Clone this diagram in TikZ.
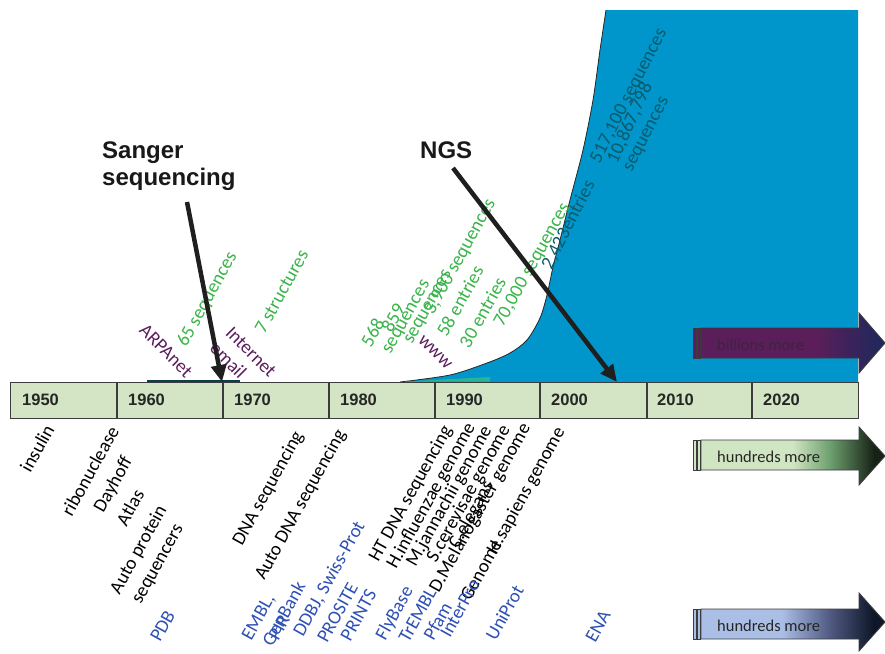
\documentclass[tikz,border=0pt]{standalone}
\usepackage{fontspec}
\setmainfont{Carlito}
\newfontfamily\headfont{Liberation Sans}
\usetikzlibrary{arrows.meta}
\definecolor{areablue}{RGB}{0,150,203}
\definecolor{bargreen}{RGB}{211,229,196}
\definecolor{barline}{RGB}{60,60,60}
\definecolor{labgreen}{RGB}{58,180,74}
\definecolor{labteal}{RGB}{12,90,106}
\definecolor{labpurple}{RGB}{92,30,94}
\definecolor{labblue}{RGB}{46,80,180}
\definecolor{streak}{RGB}{40,180,150}
\definecolor{bpurple}{RGB}{92,30,90}
\definecolor{bnavy}{RGB}{30,40,92}
\definecolor{glight}{RGB}{208,229,194}
\definecolor{gmid}{RGB}{110,160,110}
\definecolor{gdark}{RGB}{22,34,22}
\definecolor{blight}{RGB}{170,190,230}
\definecolor{bmid}{RGB}{80,90,130}
\definecolor{bdark}{RGB}{14,22,40}
\pgfdeclarehorizontalshading{shbill}{100bp}{color(0bp)=(bpurple); color(25bp)=(bpurple); color(56bp)=(bpurple); color(74bp)=(bnavy); color(100bp)=(bnavy)}
\pgfdeclarehorizontalshading{shgreen}{100bp}{color(0bp)=(glight); color(25bp)=(glight); color(50bp)=(glight); color(60bp)=(gmid); color(72bp)=(gdark); color(100bp)=(gdark)}
\pgfdeclarehorizontalshading{shblue}{100bp}{color(0bp)=(blight); color(25bp)=(blight); color(47bp)=(blight); color(60bp)=(bmid); color(72bp)=(bdark); color(100bp)=(bdark)}
\tikzset{
  lab/.style={font=\fontsize{19}{22}\selectfont, inner sep=0pt},
  gtxt/.style={lab, text=labgreen, rotate=61},
  ttxt/.style={lab, text=labteal, rotate=63},
  ptxt/.style={lab, text=labpurple, rotate=-45},
  ktxt/.style={lab, text=black, rotate=61},
  btxt/.style={lab, text=labblue, rotate=61},
  yr/.style={font=\headfont\bfseries\fontsize{16.5}{18}\selectfont, text=black!85, inner sep=0pt, anchor=west},
  hd/.style={font=\headfont\bfseries\fontsize{24}{28}\selectfont, text=black!90, inner sep=0pt, anchor=base west},
  bigarrow/.style={line width=4.5pt, black!88, -{Triangle[length=17pt,width=15pt]}},
  rarr/.style={draw=barline, line width=0.9pt},
  rtxt/.style={font=\fontsize{16.5}{18}\selectfont, inner sep=0pt, anchor=west}
}
\begin{document}
\begin{tikzpicture}[x=1pt,y=-1pt]
\useasboundingbox (0,0) rectangle (885,653);
\fill[white] (0,0) rectangle (885,653);
% blue growth area
\fill[areablue] (400,382) -- plot[smooth] coordinates {(400,382) (450,375) (487,363) (510,353) (527,340) (540,318) (547,295) (553,267) (560,240) (570,200) (583,150) (593,100) (600,50) (606,10)} -- (858,10) -- (858,382) -- cycle;
\draw[black!85, line width=0.8pt] plot[smooth] coordinates {(400,382) (450,375) (487,363) (510,353) (527,340) (540,318) (547,295) (553,267) (560,240) (570,200) (583,150) (593,100) (600,50) (606,10)};
\fill[streak] (405,381.5) -- (490,377) -- (490,381.5) -- cycle;
\draw[labteal!70!black, line width=1.8pt] (147,381) -- (240,381);
% timeline bar
\draw[barline, fill=bargreen, line width=1pt] (10,382) rectangle (858,418);
\foreach \xx in {117,223,329,435,540,647,752} \draw[barline, line width=1.2pt] (\xx,382) -- (\xx,418);
\node[yr] (y1950) at (22,400) {1950};
\node[yr] (y1960) at (128,400) {1960};
\node[yr] (y1970) at (234,400) {1970};
\node[yr] (y1980) at (340,400) {1980};
\node[yr] (y1990) at (446,400) {1990};
\node[yr] (y2000) at (551,400) {2000};
\node[yr] (y2010) at (657,400) {2010};
\node[yr] (y2020) at (763,400) {2020};
% headings
\node[hd] (sanger1) at (102,158) {Sanger};
\node[hd] (sanger2) at (102,185) {sequencing};
\node[hd] (ngs) at (420,158) {NGS};
% purple labels
\node[ptxt] (arpa) at (166,351) {ARPAnet};
\node[ptxt] (inet) at (251,352) {Internet};
\node[ptxt] (email) at (228.5,360) {email};
\node[ptxt] (www) at (435,352.5) {www};
% green labels
\node[gtxt] (s65) at (207.5,299.5) {65 sequences};
\node[gtxt] (st7) at (281.5,291.5) {7 structures};
\node[gtxt] (n568) at (372.5,332.5) {568};
\node[gtxt] (n568s) at (407.5,317.5) {sequences};
\node[gtxt] (n859) at (393,318) {859};
\node[gtxt] (n859s) at (429,307.5) {sequences};
\node[gtxt] (s3900) at (460.5,257) {3,900 sequences};
\node[gtxt] (e58) at (460,301) {58 entries};
\node[gtxt] (e30) at (482.5,312.5) {30 entries};
\node[gtxt] (s70k) at (532.5,265) {70,000 sequences};
% teal labels
\node[ttxt] (e2423) at (568.5,225) {2,423entries};
\node[ttxt] (s517) at (629,96) {517,100 sequences};
\node[ttxt, rotate=3] (n10m) at (630,123) {10,867,798};
\node[ttxt] (n10ms) at (647.5,135) {sequences};
% black labels below the bar
\node[ktxt] (insulin) at (37,448.5) {insulin};
\node[ktxt] (ribo) at (90,471) {ribonuclease};
\node[ktxt] (dayhoff) at (113.5,485) {Dayhoff};
\node[ktxt] (atlas) at (130,507.5) {Atlas};
\node[ktxt] (autop) at (139,550) {Auto protein};
\node[ktxt] (seqrs) at (159.5,565) {sequencers};
\node[ktxt] (dnaseq) at (268.5,488.5) {DNA sequencing};
\node[ktxt] (autodna) at (301,505) {Auto DNA sequencing};
\node[ktxt] (htdna) at (411,494) {HT DNA sequencing};
\node[ktxt] (hinf) at (431.5,496) {H.influenzae genome};
\node[ktxt] (mjan) at (449.5,496.5) {M.jannachii genome};
\node[ktxt] (scer) at (469,494) {S.cerevisae genome};
\node[ktxt] (dmel) at (480.5,508) {D.Melanogaster genome};
\node[ktxt] (cel) at (471.5,515) {C.elegans};
\node[ktxt] (celg) at (481,570) {Genome};
\node[ktxt] (hsap) at (526.5,491) {H.sapiens genome};
% blue labels
\node[btxt] (pdb) at (162.5,626) {PDB};
\node[btxt] (embl) at (259,617.5) {EMBL,};
\node[btxt] (genbank) at (283.5,613.5) {GenBank};
\node[btxt] (pir) at (279,627.5) {PIR};
\node[btxt] (ddbj) at (329.5,579) {DDBJ, Swiss-Prot};
\node[btxt] (prosite) at (337.5,612.5) {PROSITE};
\node[btxt] (prints) at (358.5,615) {PRINTS};
\node[btxt] (flybase) at (395,613.5) {FlyBase};
\node[btxt] (trembl) at (417.5,615) {TrEMBL};
\node[btxt] (pfam) at (437.5,621) {Pfam};
\node[btxt] (interpro) at (460,608.5) {InterPro};
\node[btxt] (uniprot) at (504.5,612.5) {UniProt};
\node[btxt] (ena) at (598,626) {ENA};
% big arrows
\coordinate (sangS) at (187,202);
\coordinate (sangE) at (222,382);
\coordinate (ngsS) at (453,168);
\coordinate (ngsE) at (617,382);
\draw[bigarrow] (sangS) -- (sangE);
\draw[bigarrow] (ngsS) -- (ngsE);
% right arrows
\shade[shading=shbill] (701,328) -- (859,328) -- (859,313) -- (885,343) -- (859,373) -- (859,358) -- (701,358) -- cycle;
\draw[rarr] (701,328) -- (859,328) -- (859,313) -- (885,343) -- (859,373) -- (859,358) -- (701,358) -- cycle;
\draw[rarr, fill=bpurple] (693,328) rectangle (696.5,358);
\draw[rarr, fill=bpurple] (697,328) rectangle (700.5,358);
\node[rtxt, text={rgb,255:red,60;green,36;blue,66}] (bill) at (717,345) {billions more};
\shade[shading=shgreen] (701,440) -- (859,440) -- (859,427) -- (885,456) -- (859,485) -- (859,470) -- (701,470) -- cycle;
\draw[rarr] (701,440) -- (859,440) -- (859,427) -- (885,456) -- (859,485) -- (859,470) -- (701,470) -- cycle;
\draw[rarr, fill=glight] (693,440) rectangle (696.5,470);
\draw[rarr, fill=glight] (697,440) rectangle (700.5,470);
\node[rtxt, text=black!85] (hund1) at (717,457) {hundreds more};
\shade[shading=shblue] (701,609) -- (859,609) -- (859,593) -- (885,622) -- (859,651) -- (859,639) -- (701,639) -- cycle;
\draw[rarr] (701,609) -- (859,609) -- (859,593) -- (885,622) -- (859,651) -- (859,639) -- (701,639) -- cycle;
\draw[rarr, fill=blight] (693,609) rectangle (696.5,639);
\draw[rarr, fill=blight] (697,609) rectangle (700.5,639);
\node[rtxt, text=black!85] (hund2) at (717,626) {hundreds more};
\end{tikzpicture}
\end{document}
